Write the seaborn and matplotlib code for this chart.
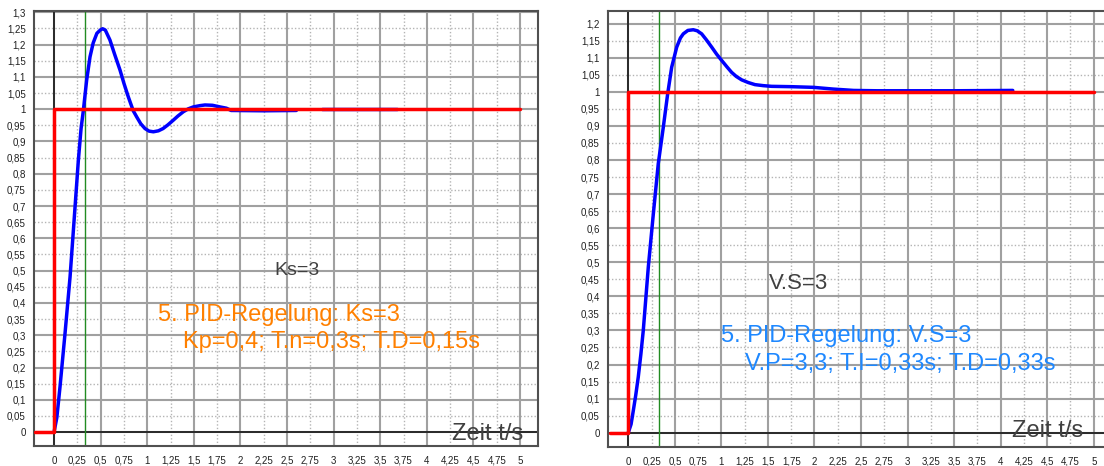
import matplotlib
matplotlib.use('Agg')
import matplotlib.pyplot as plt
from matplotlib.ticker import FuncFormatter
import numpy as np
import pandas as pd
import seaborn as sns

sns.set_style("white")
plt.rcParams['font.family'] = ['Liberation Sans', 'DejaVu Sans']

# ---- Daten ----
# links: Ks=3, Kp=0,4
links_t = [0, 0.03, 0.064, 0.118, 0.172, 0.218, 0.261, 0.29, 0.315, 0.35, 0.386, 0.42,
           0.46, 0.5, 0.522, 0.55, 0.6, 0.65, 0.708, 0.75, 0.797, 0.85, 0.887, 0.93,
           0.976, 1.02, 1.066, 1.12, 1.17, 1.22, 1.28, 1.33, 1.387, 1.44, 1.495, 1.567,
           1.62, 1.7, 1.78, 1.85, 1.9, 2.25, 2.6,
           2.88, 3.68]
links_y = [0, 0.045, 0.14, 0.306, 0.481, 0.667, 0.842, 0.94, 0.997, 1.09, 1.162, 1.205,
           1.235, 1.246, 1.249, 1.245, 1.214, 1.17, 1.121, 1.08, 1.038, 0.995, 0.976, 0.955,
           0.94, 0.932, 0.930, 0.933, 0.940, 0.951, 0.966, 0.979, 0.992, 1.001, 1.007, 1.011,
           1.013, 1.012, 1.007, 1.003, 0.996, 0.995, 0.996,
           0.999, 0.999]
links_seg = [0] * 43 + [1] * 2

# rechts: V.S=3, V.P=3,3
rechts_t = [0, 0.03, 0.054, 0.08, 0.107, 0.135, 0.161, 0.215, 0.269, 0.322, 0.376, 0.423,
            0.466, 0.52, 0.56, 0.591, 0.64, 0.698, 0.74, 0.788, 0.84, 0.896, 0.95, 1.003,
            1.06, 1.11, 1.16, 1.218, 1.29, 1.361, 1.45, 1.54, 1.75, 1.99, 2.2, 2.42, 2.67,
            3.0, 3.5, 4.13]
rechts_y = [0, 0.025, 0.065, 0.11, 0.163, 0.23, 0.30, 0.486, 0.642, 0.789, 0.896, 0.994,
            1.072, 1.131, 1.158, 1.170, 1.18, 1.182, 1.179, 1.170, 1.152, 1.131, 1.11, 1.092,
            1.073, 1.057, 1.045, 1.035, 1.027, 1.021, 1.018, 1.016, 1.015, 1.013, 1.008, 1.004, 1.003,
            1.003, 1.003, 1.004]

# Sollwert-Sprung
sprung_t = [-0.2, 0, 0, 5]
sprung_y = [0, 0, 1, 1]

# gruene Markierung
markierung_t = 0.335

x_ticks = np.arange(0, 5.001, 0.25)


def komma(v, pos=None):
    return f"{round(v, 2):g}".replace('.', ',')


def panel(ax, t, y, seg, xlim, ylim, y_top):
    # Gitter: 0,5 / 0,1 durchgezogen, 0,25 / 0,05 gepunktet
    for i, x in enumerate(x_ticks):
        if i % 2:
            ax.axvline(x, color='#b4b4b4', lw=1, ls=(0, (1, 1.5)), zorder=0)
        else:
            ax.axvline(x, color='#a0a0a0', lw=1.5, zorder=0.5)
    y_grid = np.arange(0, y_top + 0.001, 0.05)
    for i, v in enumerate(y_grid):
        if i % 2:
            ax.axhline(v, color='#b4b4b4', lw=1, ls=(0, (1, 1.5)), zorder=0)
        else:
            ax.axhline(v, color='#a0a0a0', lw=1.5, zorder=0.5)
    ax.axhline(0, color='#202020', lw=1.3, zorder=1)
    ax.axvline(0, color='#202020', lw=1.3, zorder=1)
    ax.axvline(markierung_t, color='#228b22', lw=1, zorder=1.5)

    df = pd.DataFrame({'t': t, 'y': y, 'seg': seg})
    sns.lineplot(data=df, x='t', y='y', units='seg', estimator=None, sort=False,
                 color='#0000ff', lw=2.5, ax=ax, zorder=3)
    sp = pd.DataFrame({'t': sprung_t, 'y': sprung_y})
    sns.lineplot(data=sp, x='t', y='y', estimator=None, sort=False,
                 color='#ff0000', lw=2.5, ax=ax, zorder=4)

    ax.set_xlim(*xlim)
    ax.set_ylim(*ylim)
    ax.set_xticks(x_ticks)
    ax.set_yticks(y_grid)
    ax.xaxis.set_major_formatter(FuncFormatter(komma))
    ax.yaxis.set_major_formatter(FuncFormatter(komma))
    ax.tick_params(axis='both', length=4, width=1, color='#303030', labelsize=7,
                   labelcolor='#202020', pad=2, direction='out')
    ax.tick_params(axis='x', pad=3)
    ax.set_xlabel('')
    ax.set_ylabel('')
    for s in ax.spines.values():
        s.set_color('#505050')
        s.set_linewidth(1.5)


fig = plt.figure(figsize=(11.04, 4.66), dpi=100)

ax1 = fig.add_axes([34 / 1104, 20 / 466, 504 / 1104, 435 / 466])
panel(ax1, links_t, links_y, links_seg, (-0.215, 5.193), (-0.043, 1.304), 1.3)
ax1.text(2.607, 0.50, 'Ks=3', fontsize=14, color='#404040', ha='center', va='center')
ax1.text(1.116, 0.344, '5. PID-Regelung: Ks=3', fontsize=17, color='#ff8000', va='baseline')
ax1.text(1.384, 0.26, 'Kp=0,4; T.n=0,3s; T.D=0,15s', fontsize=17, color='#ff8000', va='baseline')
ax1.text(5.03, -0.025, 'Zeit t/s', fontsize=17, color='#404040', ha='right', va='baseline')

ax2 = fig.add_axes([608 / 1104, 19 / 466, 496 / 1104, 436 / 466])
panel(ax2, rechts_t, rechts_y, [0] * len(rechts_t), (-0.218, 5.11), (-0.042, 1.237), 1.2)
ax2.spines['right'].set_visible(False)
ax2.text(1.833, 0.438, 'V.S=3', fontsize=16, color='#404040', ha='center', va='center')
ax2.text(0.996, 0.265, '5. PID-Regelung: V.S=3', fontsize=17, color='#1e88ff', va='baseline')
ax2.text(1.253, 0.183, 'V.P=3,3; T.I=0,33s; T.D=0,33s', fontsize=17, color='#1e88ff', va='baseline')
ax2.text(4.887, -0.014, 'Zeit t/s', fontsize=17, color='#404040', ha='right', va='baseline')

fig.savefig('out.png', dpi=100)
